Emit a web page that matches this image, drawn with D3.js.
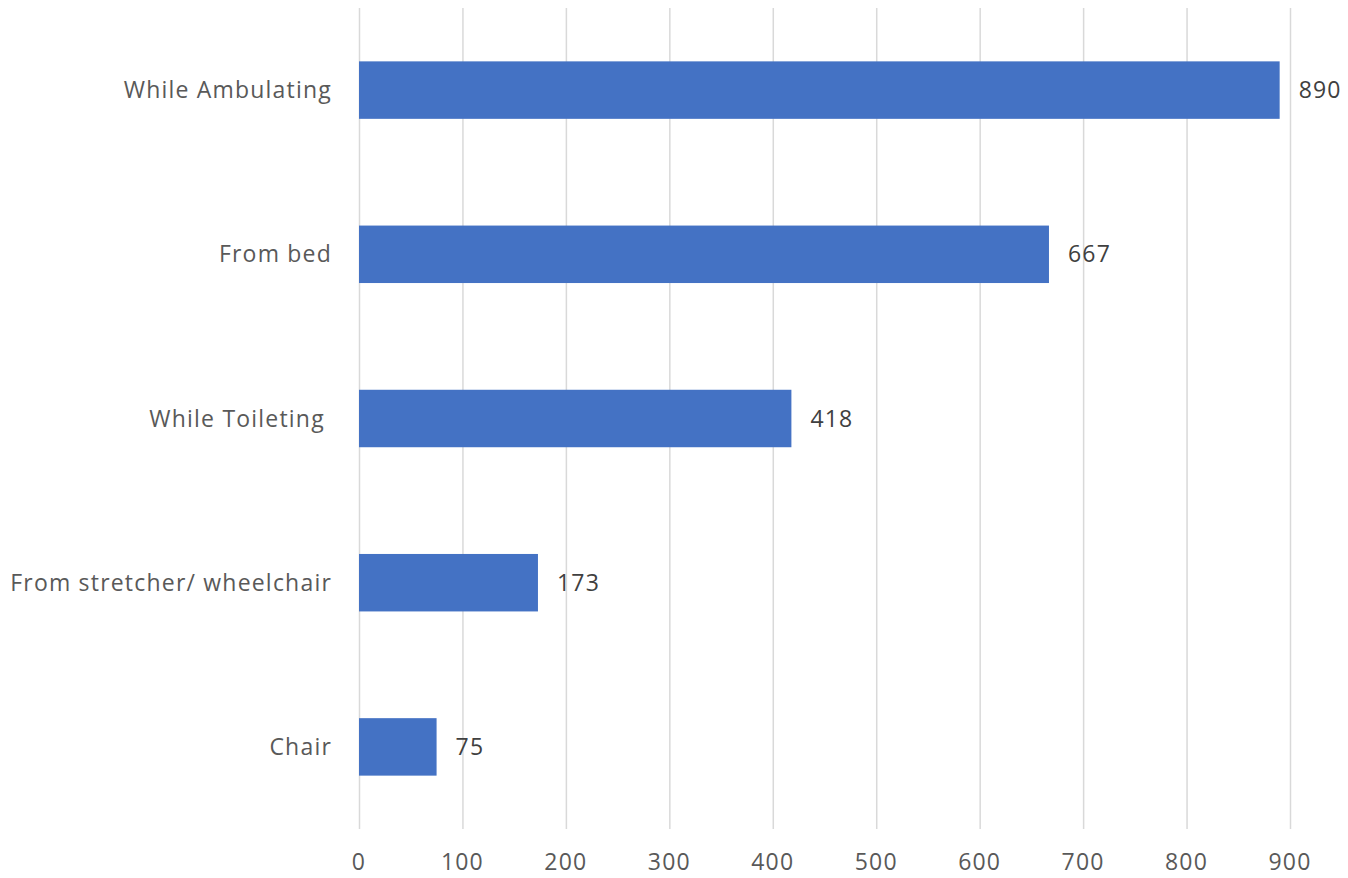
<!DOCTYPE html>
<html lang="en">
<head>
<meta charset="utf-8">
<title>Falls by Activity</title>
<script src="https://d3js.org/d3.v7.min.js"></script>
<style>
  body { margin: 0; background: #fff; }
  text { font-family: "Open Sans", "Noto Sans", sans-serif; letter-spacing: 1.2px; white-space: pre; }
  .tick-label { font-size: 23px; fill: #595959; }
  .cat-label { font-size: 23px; fill: #595959; }
  .value-label { font-size: 23px; fill: #404040; }
</style>
</head>
<body>
<div id="vis"></div>
<script>
const categories = ["While Ambulating", "From bed", "While Toileting ", "From stretcher/ wheelchair", "Chair"];
const values = [890, 667, 418, 173, 75];
const xTicks = [0, 100, 200, 300, 400, 500, 600, 700, 800, 900];

const width = 1348, height = 878;
const margin = {top: 8, right: 58, bottom: 49, left: 359};

const svg = d3.select("#vis").append("svg")
  .attr("width", width)
  .attr("height", height);

const x = d3.scaleLinear()
  .domain([0, 900])
  .range([margin.left, width - margin.right]);

const y = d3.scaleBand()
  .domain(categories)
  .range([margin.top, height - margin.bottom])
  .paddingInner(0.65)
  .paddingOuter(0.325);

// gridlines
svg.append("g")
  .selectAll("line")
  .data(xTicks)
  .join("line")
  .attr("x1", d => x(d) + 0.5)
  .attr("x2", d => x(d) + 0.5)
  .attr("y1", margin.top)
  .attr("y2", height - margin.bottom)
  .attr("stroke", "#d9d9d9")
  .attr("stroke-width", 1.5);

// x tick labels
svg.append("g")
  .selectAll("text")
  .data(xTicks)
  .join("text")
  .attr("class", "tick-label")
  .attr("x", d => x(d))
  .attr("y", 870)
  .attr("text-anchor", "middle")
  .text(d => d);

// bars
svg.append("g")
  .selectAll("rect")
  .data(values)
  .join("rect")
  .attr("x", x(0))
  .attr("y", (d, i) => y(categories[i]))
  .attr("width", d => x(d) - x(0))
  .attr("height", y.bandwidth())
  .attr("fill", "#4472c4");

// category labels
svg.append("g")
  .selectAll("text")
  .data(categories)
  .join("text")
  .attr("class", "cat-label")
  .attr("x", margin.left - 27)
  .attr("y", d => y(d) + y.bandwidth() / 2)
  .attr("dy", "0.35em")
  .attr("text-anchor", "end")
  .text(d => d);

// value labels
svg.append("g")
  .selectAll("text")
  .data(values)
  .join("text")
  .attr("class", "value-label")
  .attr("x", d => x(d) + 19)
  .attr("y", (d, i) => y(categories[i]) + y.bandwidth() / 2)
  .attr("dy", "0.35em")
  .text(d => d);
</script>
</body>
</html>
